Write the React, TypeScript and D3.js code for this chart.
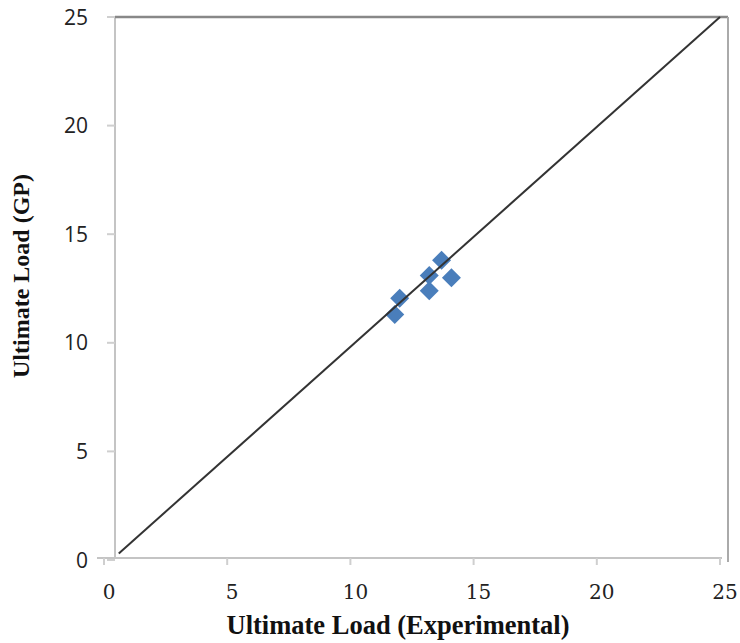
import React from 'react'
import * as d3 from 'd3'

// values
const expLoad = [11.8, 12.0, 13.2, 13.2, 13.7, 14.1]
const gpLoad = [11.3, 12.05, 12.4, 13.1, 13.8, 13.0]
const xTicks = [0, 5, 10, 15, 20, 25]
const yTicks = [0, 5, 10, 15, 20, 25]
const refLineX = [0.6, 25]
const refLineY = [0.3, 25]

const width = 740
const height = 643
const plot = { left: 115, right: 728, top: 17, bottom: 558 }

const App = () => {
    const xScale = d3.scaleLinear().domain([0, 25]).range([104, 720])
    const yScale = d3.scaleLinear().domain([0, 25]).range([560, 17])

    const line = d3.line<number>()
        .x(i => xScale(refLineX[i]))
        .y(i => yScale(refLineY[i]))

    const marker = d3.symbol().type(d3.symbolSquare).size(180)()

    return (
        <svg width={width} height={height} style={{ position: 'absolute', left: 0, top: 0, background: '#fff' }}>
            {/* y axis */}
            <line x1={plot.left} x2={plot.left} y1={plot.top} y2={plot.bottom} stroke="#c4c4c4" strokeWidth={2} />
            {yTicks.map(t => (
                <g key={'y' + t}>
                    <line x1={plot.left - 8} x2={plot.left} y1={yScale(t)} y2={yScale(t)} stroke="#cfcfcf" strokeWidth={2} />
                    <text x={88} y={yScale(t)} dy="0.36em" textAnchor="end"
                        fontFamily="'Open Sans', sans-serif" fontSize={21} fill="#222">{t}</text>
                </g>
            ))}

            {/* x axis */}
            <line x1={97} x2={722} y1={plot.bottom} y2={plot.bottom} stroke="#c4c4c4" strokeWidth={2} />
            {xTicks.map(t => (
                <g key={'x' + t}>
                    <line x1={xScale(t)} x2={xScale(t)} y1={plot.bottom} y2={plot.bottom + 7} stroke="#cfcfcf" strokeWidth={2} />
                    <text x={xScale(t) + 5} y={592} dy="0.36em" textAnchor="middle"
                        fontFamily="'DejaVu Serif', serif" fontSize={20} fill="#222">{t}</text>
                </g>
            ))}

            {/* top and right border */}
            <line x1={plot.left} x2={plot.right} y1={plot.top} y2={plot.top} stroke="#888" strokeWidth={2.5} />
            <line x1={plot.right} x2={plot.right} y1={plot.top} y2={562} stroke="#aaa" strokeWidth={2} />

            {/* points */}
            {expLoad.map((x, i) => (
                <path key={i} d={marker || ''} fill="#4a7ebb"
                    transform={`translate(${xScale(x)},${yScale(gpLoad[i])}) rotate(45)`} />
            ))}

            {/* 1:1 line, drawn over the markers */}
            <path d={line([0, 1]) || ''} fill="none" stroke="#333" strokeWidth={2} />

            {/* axis titles */}
            <text x={398} y={634} textAnchor="middle" fontFamily="'Liberation Serif', serif"
                fontWeight="bold" fontSize={26.5} fill="#111">Ultimate Load (Experimental)</text>
            <text transform="translate(29,276) rotate(-90)" textAnchor="middle" fontFamily="'Liberation Serif', serif"
                fontWeight="bold" fontSize={24} fill="#111">Ultimate Load (GP)</text>
        </svg>
    )
}

export default App
